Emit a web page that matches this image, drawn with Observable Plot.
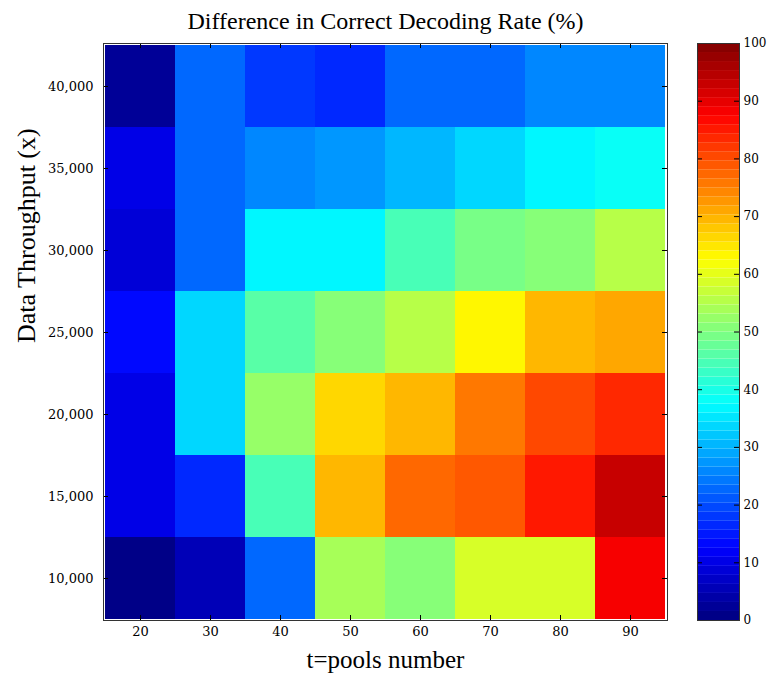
<!DOCTYPE html>
<html>
<head>
<meta charset="utf-8">
<script src="https://cdn.jsdelivr.net/npm/d3@7"></script>
<script src="https://cdn.jsdelivr.net/npm/@observablehq/plot@0.6"></script>
<style>
  html, body { margin: 0; padding: 0; background: #fff; }
  #wrap { position: relative; width: 768px; height: 673px; overflow: hidden; }
  #cbar { position: absolute; left: 695px; top: 0; }
  #main { position: absolute; left: 0; top: 0; }
</style>
</head>
<body>
<div id="wrap"><div id="main"></div><div id="cbar"></div></div>
<script>
// ---- data ----
const pools = [20, 30, 40, 50, 60, 70, 80, 90];
const throughput = [40000, 35000, 30000, 25000, 20000, 15000, 10000];
const rate40000 = [2, 23, 18, 16, 22, 22, 26, 25];
const rate35000 = [10, 23, 25, 27, 31, 33, 36, 38];
const rate30000 = [8, 23, 36, 36, 44, 49, 51, 55];
const rate25000 = [13, 34, 46, 50, 56, 62.5, 69, 71];
const rate20000 = [10, 34, 53, 67, 70, 75, 81, 83];
const rate15000 = [10, 16, 44, 69, 77, 78.5, 85, 93];
const rate10000 = [1, 6, 23, 53.5, 51.5, 58, 58, 88];
const colorbarTicks = [0, 10, 20, 30, 40, 50, 60, 70, 80, 90, 100];

const title = "Difference in Correct Decoding Rate (%)";
const xLabel = "t=pools number";
const yLabel = "Data Throughput (x)";

const rows = [rate40000, rate35000, rate30000, rate25000, rate20000, rate15000, rate10000];
const cells = throughput.flatMap((tp, i) => pools.map((p, j) => ({pool: p, tp, value: rows[i][j]})));

// MATLAB-like jet colormap, 64 levels
const NLEV = 64;
function jet(t) {
  const i = Math.max(0, Math.min(NLEV - 1, Math.floor(t * NLEV)));
  const v = (i + 0.5) / NLEV;
  const c = x => Math.round(255 * Math.max(0, Math.min(1, x)));
  const r = c(1.5 - Math.abs(4 * v - 3));
  const g = c(1.5 - Math.abs(4 * v - 2));
  const b = c(1.5 - Math.abs(4 * v - 1));
  return `rgb(${r},${g},${b})`;
}
const colorOpts = {type: "linear", domain: [0, 100], interpolate: jet};

const serif = "Liberation Serif, Times New Roman, serif";
const tickFont = "DejaVu Serif, serif";

const W = 768, H = 673, mT = 43, mB = 53, mL = 103, mR = 101;
const frameW = W - mL - mR, frameH = H - mT - mB;
const tick = 5;

const main = Plot.plot({
  width: W, height: H,
  marginTop: mT, marginBottom: mB, marginLeft: mL, marginRight: mR,
  x: {type: "band", domain: pools, padding: 0},
  y: {type: "band", domain: throughput, padding: 0},
  color: colorOpts,
  style: {fontFamily: tickFont, fontSize: "13px", color: "#000", background: "transparent", overflow: "visible"},
  marks: [
    Plot.cell(cells, {x: "pool", y: "tp", fill: "value"}),
    Plot.ruleX(pools, {x: d => d, insetTop: frameH - tick, stroke: "#000"}),
    Plot.ruleX(pools, {x: d => d, insetBottom: frameH - tick, stroke: "#000"}),
    Plot.ruleY(throughput, {y: d => d, insetRight: frameW - tick, stroke: "#000"}),
    Plot.ruleY(throughput, {y: d => d, insetLeft: frameW - tick, stroke: "#000"}),
    Plot.frame({stroke: "#333"}),
    Plot.axisX({tickSize: 0, tickPadding: 6, label: null, fill: "#000"}),
    Plot.axisY({tickSize: 0, tickPadding: 10, tickFormat: d3.format(","), label: null, fill: "#000"}),
    Plot.text([title], {frameAnchor: "top", dy: -22, lineAnchor: "middle", fontSize: 24, fontFamily: serif, fill: "#000"}),
    Plot.text([xLabel], {frameAnchor: "bottom", dy: 39, lineAnchor: "middle", fontSize: 25, fontFamily: serif, fill: "#000"}),
    Plot.text([yLabel], {frameAnchor: "left", dx: -77, dy: 11, rotate: -90, lineAnchor: "middle", fontSize: 26, fontFamily: serif, fill: "#000"})
  ]
});
document.getElementById("main").appendChild(main);

const levels = d3.range(NLEV).map(i => i * 100 / NLEV);
const step = 100 / NLEV;
const cbW = 42;
const cbar = Plot.plot({
  width: 2 + cbW + 29, height: H,
  marginTop: mT, marginBottom: mB, marginLeft: 2, marginRight: 29,
  y: {type: "linear", domain: [0, 100]},
  color: colorOpts,
  style: {fontFamily: tickFont, fontSize: "12px", color: "#000", background: "transparent", overflow: "visible"},
  marks: [
    Plot.rect(levels, {y1: d => d, y2: d => d + step, fill: d => d + step / 2}),
    Plot.ruleY(colorbarTicks, {y: d => d, insetRight: cbW - tick, stroke: "#000"}),
    Plot.ruleY(colorbarTicks, {y: d => d, insetLeft: cbW - tick, stroke: "#000"}),
    Plot.frame({stroke: "#333"}),
    Plot.axisY({anchor: "right", ticks: colorbarTicks, tickSize: 0, tickPadding: 4, label: null, fill: "#000"})
  ]
});
document.getElementById("cbar").appendChild(cbar);
</script>
</body>
</html>
